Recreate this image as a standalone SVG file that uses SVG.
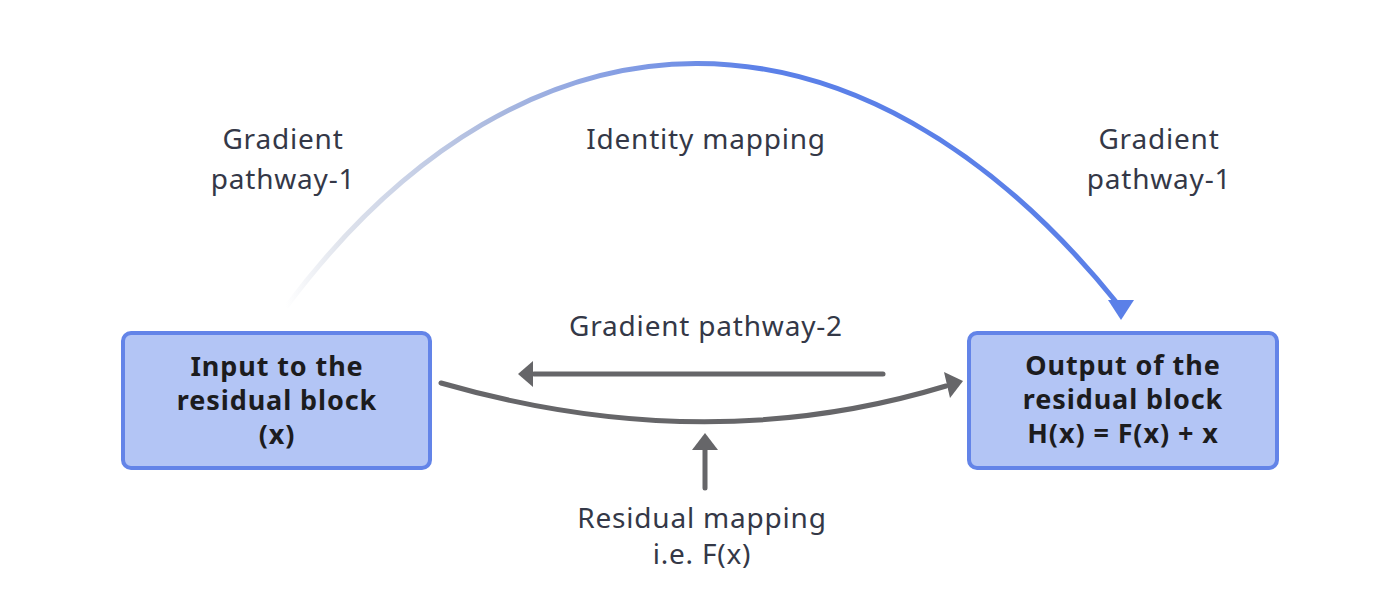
<svg xmlns="http://www.w3.org/2000/svg" width="1400" height="613" viewBox="0 0 1400 613">
<defs>
<style>
.box{fill:#b3c5f5;stroke:#6384e8;stroke-width:4}
.bt{font-family:"Noto Sans","Open Sans",sans-serif;font-weight:bold;font-size:27px;letter-spacing:0.9px;fill:#1c1c1e;text-anchor:middle}
.lt{font-family:"Noto Sans","Open Sans",sans-serif;font-size:28px;letter-spacing:0.8px;fill:#343847;text-anchor:middle}
.gray{fill:none;stroke:#666669;stroke-width:5;stroke-linecap:round}
</style>
<linearGradient id="arcg" gradientUnits="userSpaceOnUse" x1="286" y1="0" x2="760" y2="0">
<stop offset="0" stop-color="#ffffff"/>
<stop offset="0.12" stop-color="#dfe3ec"/>
<stop offset="0.45" stop-color="#a9b8df"/>
<stop offset="1" stop-color="#5b80e8"/>
</linearGradient>
</defs>
<g id="connectors">
<path d="M286,307 C529,-17 859,-17 1117,303" fill="none" stroke="url(#arcg)" stroke-width="5"/>
<polygon points="1108,300 1134,300 1121,320" fill="#5b80e8"/>
<line class="gray" x1="883" y1="374" x2="534" y2="374"/>
<polygon points="518,374 533,361 533,387" fill="#666669"/>
<path class="gray" d="M441,383 Q705,459 946,386"/>
<polygon points="963,381 944,372 950,398" fill="#666669"/>
<line class="gray" x1="705" y1="488" x2="705" y2="450"/>
<polygon points="705,433 692,450 718,450" fill="#666669"/>
</g>
<g id="input-node">
<rect class="box" x="123" y="333" width="307" height="135" rx="8"/>
<text class="bt" x="277" y="376">Input to the</text>
<text class="bt" x="277" y="410">residual block</text>
<text class="bt" x="277" y="444">(x)</text>
</g>
<g id="output-node">
<rect class="box" x="969" y="333" width="308" height="135" rx="8"/>
<text class="bt" x="1123" y="375">Output of the</text>
<text class="bt" x="1123" y="409">residual block</text>
<text class="bt" x="1123" y="443">H(x) = F(x) + x</text>
</g>
<g id="labels">
<text class="lt" x="283" y="149">Gradient</text>
<text class="lt" x="283" y="189">pathway-1</text>
<text class="lt" x="706" y="149">Identity mapping</text>
<text class="lt" x="1159" y="149">Gradient</text>
<text class="lt" x="1159" y="189">pathway-1</text>
<text class="lt" x="706" y="336">Gradient pathway-2</text>
<text class="lt" x="702" y="528">Residual mapping</text>
<text class="lt" x="702" y="564">i.e. F(x)</text>
</g>
</svg>
